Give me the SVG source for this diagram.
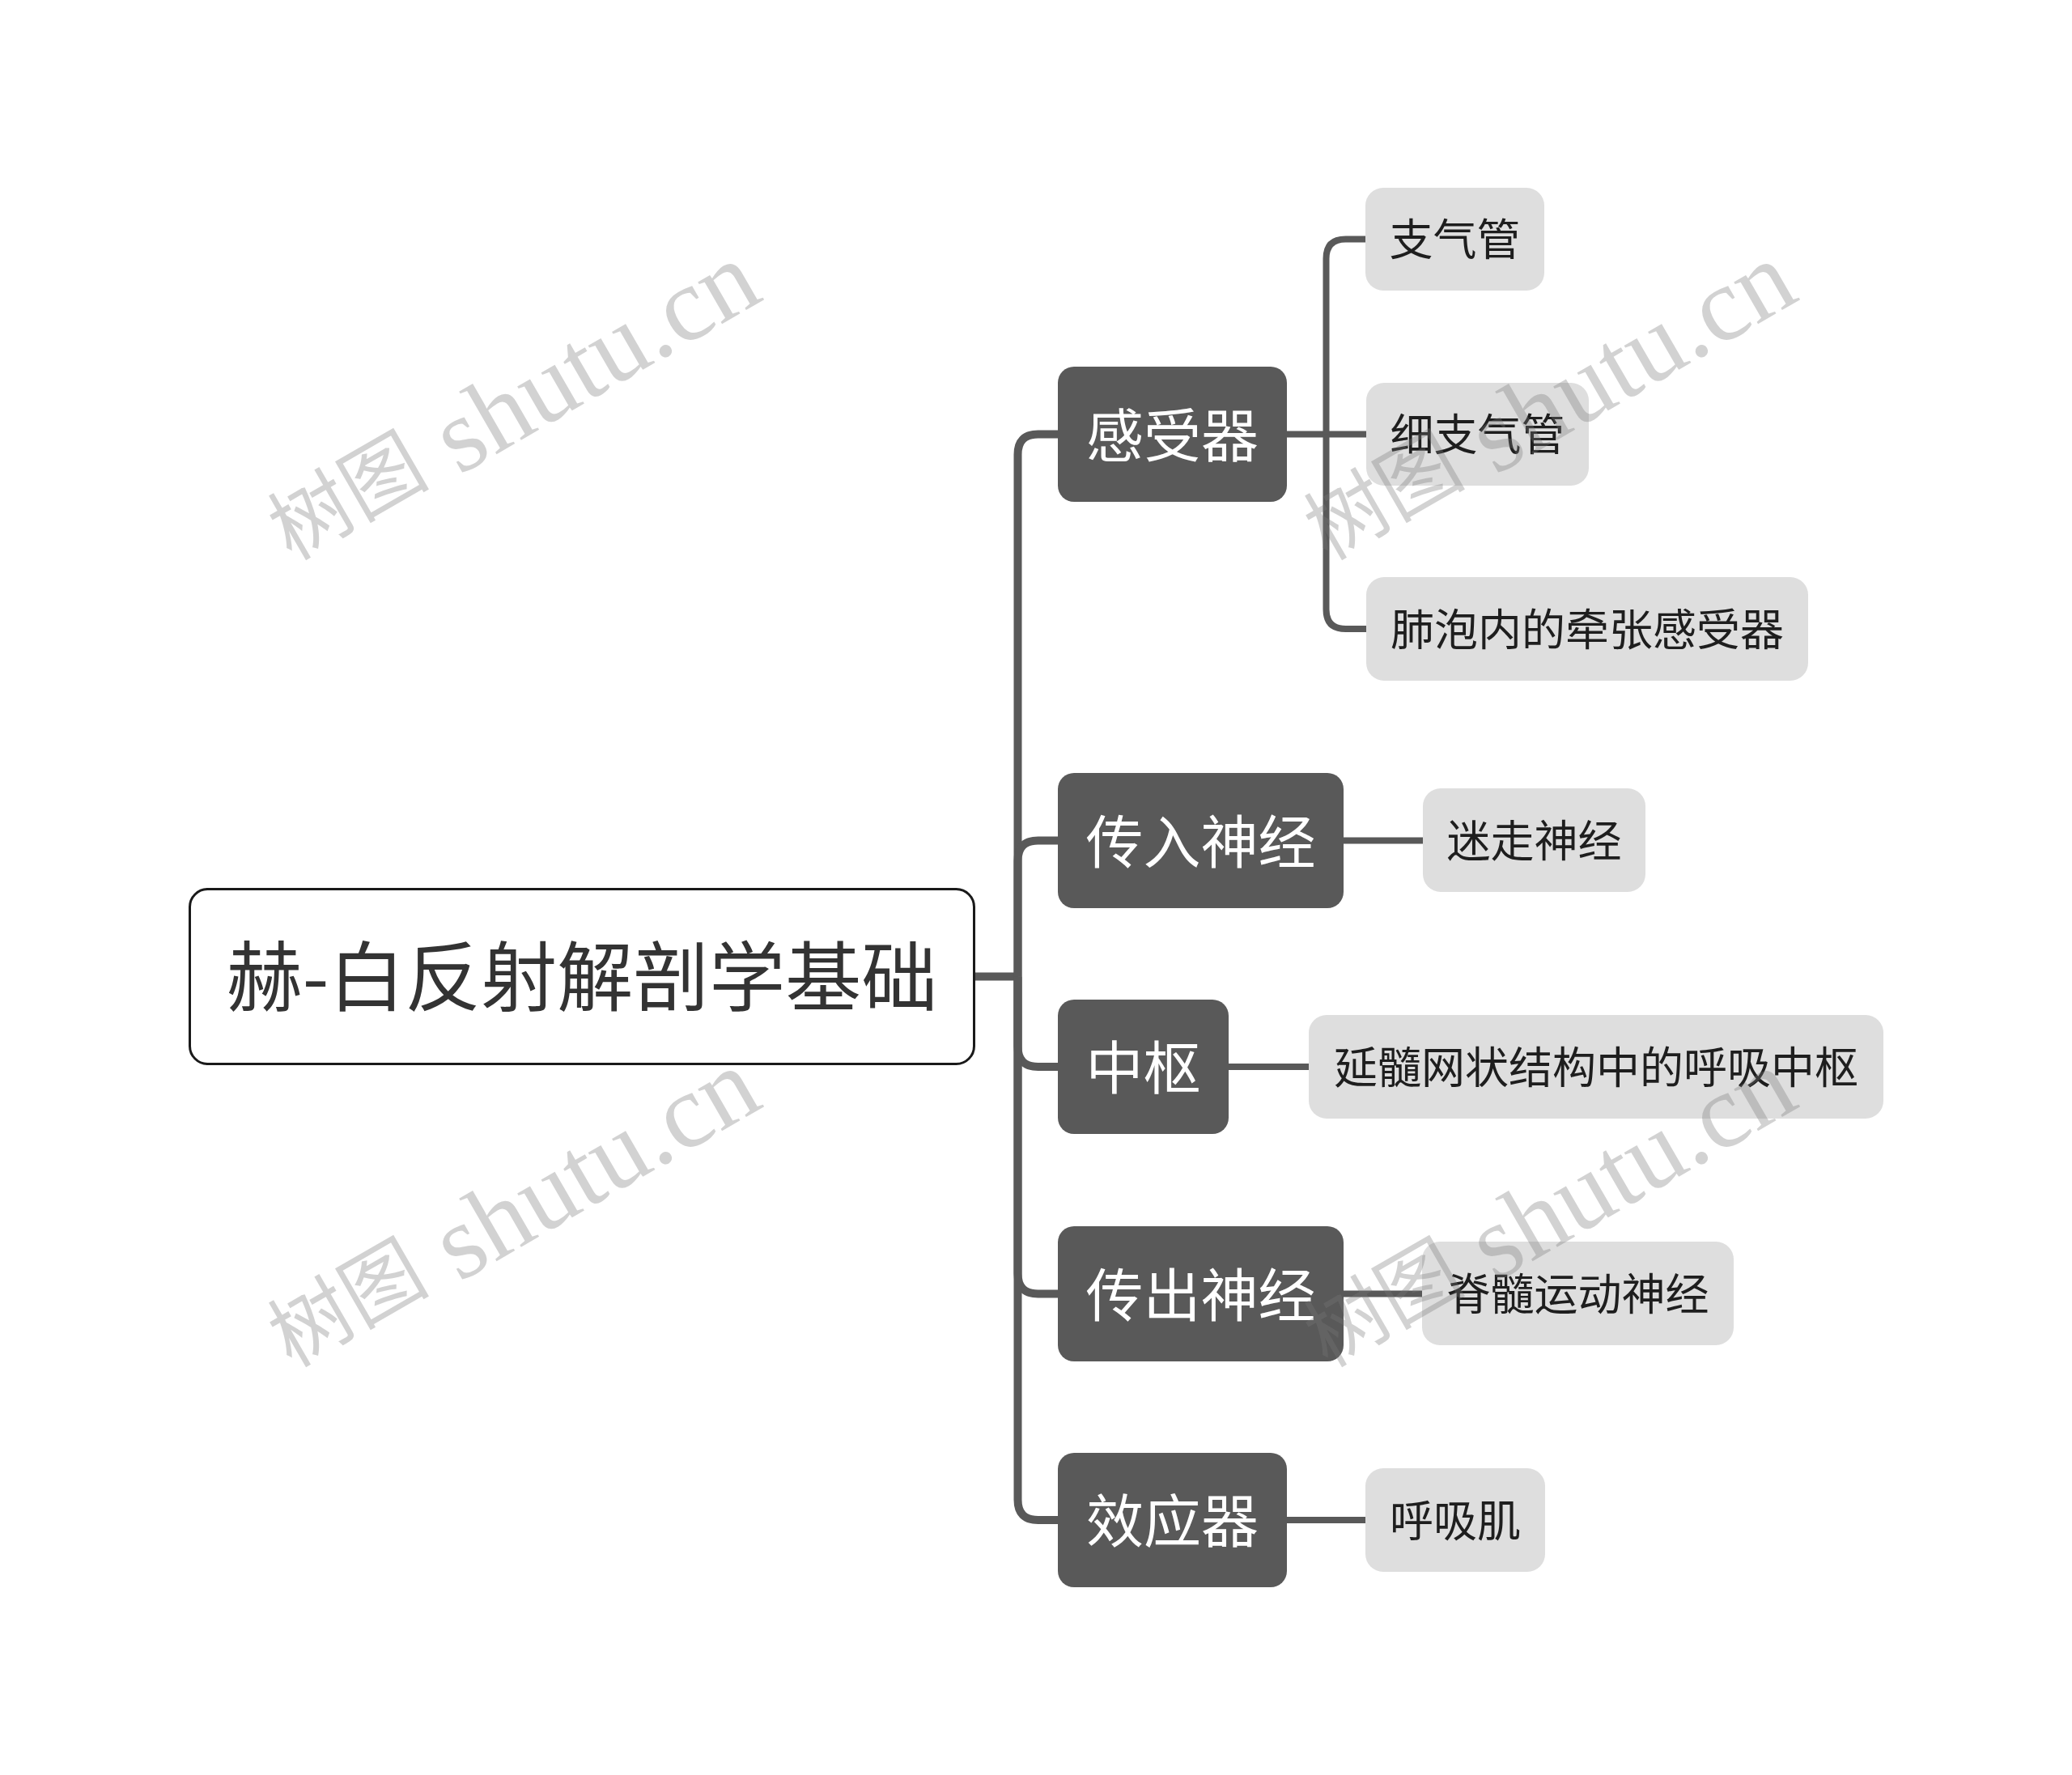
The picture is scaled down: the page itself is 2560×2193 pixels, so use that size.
<svg xmlns="http://www.w3.org/2000/svg" width="2560" height="2193" viewBox="0 0 2560 2193">
<style>
.t{font-family:"Noto Sans CJK SC","Noto Sans",sans-serif;text-anchor:middle}
.root rect{fill:#fff;stroke:#1a1a1a;stroke-width:3}
.root text{font-size:94px;fill:#333}
.l1 rect{fill:#595959}
.l1 text{font-size:71px;fill:#fff}
.l2 rect{fill:#dedede}
.l2 text{font-size:54px;fill:#1e1e1e}
.c1{fill:none;stroke:#595959;stroke-width:10}
.c2{fill:none;stroke:#595959;stroke-width:8}
.wm{font-family:"Liberation Serif","Noto Sans CJK SC",serif;font-size:130px;fill:#7a7a7a;opacity:0.33}
.wm .cj{font-size:100px}
</style>
<rect width="2560" height="2193" fill="#fff"/>
<g id="connectors">
<path class="c1" d="M1205,1206.5 H1258"/>
<path class="c1" d="M1257.5,1206.5 V561.5 Q1257.5,536.5 1282.5,536.5 H1308"/>
<path class="c1" d="M1257.5,1206.5 V1063.5 Q1257.5,1038.5 1282.5,1038.5 H1308"/>
<path class="c1" d="M1257.5,1206.5 V1293 Q1257.5,1318 1282.5,1318 H1308"/>
<path class="c1" d="M1257.5,1206.5 V1573.5 Q1257.5,1598.5 1282.5,1598.5 H1308"/>
<path class="c1" d="M1257.5,1206.5 V1853 Q1257.5,1878 1282.5,1878 H1308"/>
<path class="c2" d="M1589,536.5 H1689"/>
<path class="c2" d="M1638.5,536.5 V319.5 Q1638.5,295.5 1662.5,295.5 H1688"/>
<path class="c2" d="M1638.5,536.5 V753 Q1638.5,777 1662.5,777 H1689"/>
<path class="c2" d="M1659,1038.5 H1759"/>
<path class="c2" d="M1517,1318 H1618"/>
<path class="c2" d="M1659,1598.5 H1758"/>
<path class="c2" d="M1589,1878 H1688"/>
</g>
<g id="root" class="root">
<rect x="234.5" y="1098.5" width="969" height="216" rx="22"/>
<text class="t" x="719" y="1242">赫-白反射解剖学基础</text>
</g>
<g id="n-ganshouqi" class="l1">
<rect x="1307" y="453" width="283" height="167" rx="20"/>
<text class="t" x="1448.5" y="563.5">感受器</text>
</g>
<g id="n-chuanru" class="l1">
<rect x="1307" y="955" width="353" height="167" rx="20"/>
<text class="t" x="1483.5" y="1065.5">传入神经</text>
</g>
<g id="n-zhongshu" class="l1">
<rect x="1307" y="1235" width="211" height="166" rx="20"/>
<text class="t" x="1412.5" y="1345">中枢</text>
</g>
<g id="n-chuanchu" class="l1">
<rect x="1307" y="1515" width="353" height="167" rx="20"/>
<text class="t" x="1483.5" y="1625.5">传出神经</text>
</g>
<g id="n-xiaoyingqi" class="l1">
<rect x="1307" y="1795" width="283" height="166" rx="20"/>
<text class="t" x="1448.5" y="1905">效应器</text>
</g>
<g id="n-zhiqiguan" class="l2">
<rect x="1687" y="232" width="221" height="127" rx="22"/>
<text class="t" x="1797.5" y="316">支气管</text>
</g>
<g id="n-xizhiqiguan" class="l2">
<rect x="1688" y="473" width="275" height="127" rx="22"/>
<text class="t" x="1825.5" y="557">细支气管</text>
</g>
<g id="n-feipao" class="l2">
<rect x="1688" y="713" width="546" height="128" rx="22"/>
<text class="t" x="1961" y="797.5">肺泡内的牵张感受器</text>
</g>
<g id="n-mizou" class="l2">
<rect x="1758" y="974" width="275" height="128" rx="22"/>
<text class="t" x="1895.5" y="1058.5">迷走神经</text>
</g>
<g id="n-yansui" class="l2">
<rect x="1617" y="1254" width="710" height="128" rx="22"/>
<text class="t" x="1972" y="1338.5">延髓网状结构中的呼吸中枢</text>
</g>
<g id="n-jisui" class="l2">
<rect x="1757" y="1534" width="385" height="128" rx="22"/>
<text class="t" x="1949.5" y="1618.5">脊髓运动神经</text>
</g>
<g id="n-huxiji" class="l2">
<rect x="1687" y="1814" width="222" height="128" rx="22"/>
<text class="t" x="1798" y="1898.5">呼吸肌</text>
</g>
<g id="watermark">
<text class="wm" transform="translate(366,704) rotate(-30)"><tspan class="cj" dy="-12">树图</tspan><tspan dy="12"> shutu.cn</tspan></text>
<text class="wm" transform="translate(1646,704) rotate(-30)"><tspan class="cj" dy="-12">树图</tspan><tspan dy="12"> shutu.cn</tspan></text>
<text class="wm" transform="translate(366,1701) rotate(-30)"><tspan class="cj" dy="-12">树图</tspan><tspan dy="12"> shutu.cn</tspan></text>
<text class="wm" transform="translate(1646,1701) rotate(-30)"><tspan class="cj" dy="-12">树图</tspan><tspan dy="12"> shutu.cn</tspan></text>
</g>
</svg>
